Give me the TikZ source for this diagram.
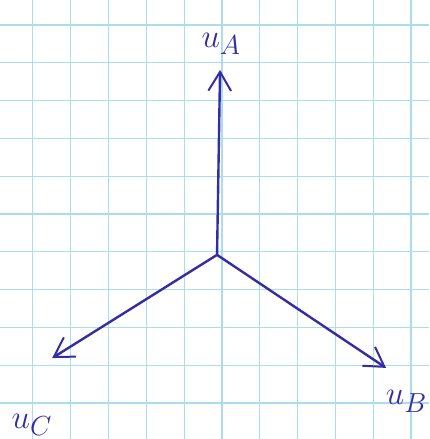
\documentclass[tikz,border=0pt]{standalone}
\usetikzlibrary{arrows.meta}
\definecolor{ink}{RGB}{52,44,165}
\definecolor{paper}{RGB}{170,222,236}
\tikzset{
    phasor/.style={
        draw=ink, line width=1.8pt, line cap=round,
        -{Straight Barb[length=5mm, width=6mm, line width=1.5pt]}
    },
    phasor label/.style={
        text=ink, inner sep=0pt,
        font=\fontsize{30}{34}\selectfont
    }
}
\begin{document}
\begin{tikzpicture}[x=1cm, y=1cm]
        \useasboundingbox (0,0) rectangle (11.35,11.61);
        \fill[white] (0,0) rectangle (11.35,11.61);
        \draw[paper, line width=0.9pt, xshift=0.87cm, yshift=0.95cm]
            (-0.87,-0.95) grid (10.48,10.66);
        \coordinate (O) at (5.74,4.87);
        \coordinate (A) at (5.82,9.76);
        \coordinate (B) at (10.21,1.88);
        \coordinate (C) at (1.38,2.14);
        \draw[phasor] (O) -- (A);
        \draw[phasor] (O) -- (B);
        \draw[phasor] (O) -- (C);
        \node[phasor label] (la) at (5.85,10.45) {$u_A$};
        \node[phasor label] (lb) at (10.75,1.0) {$u_B$};
        \node[phasor label, anchor=south west] (lc) at (0.3,0.08) {$u_C$};
    \end{tikzpicture}
\end{document}
